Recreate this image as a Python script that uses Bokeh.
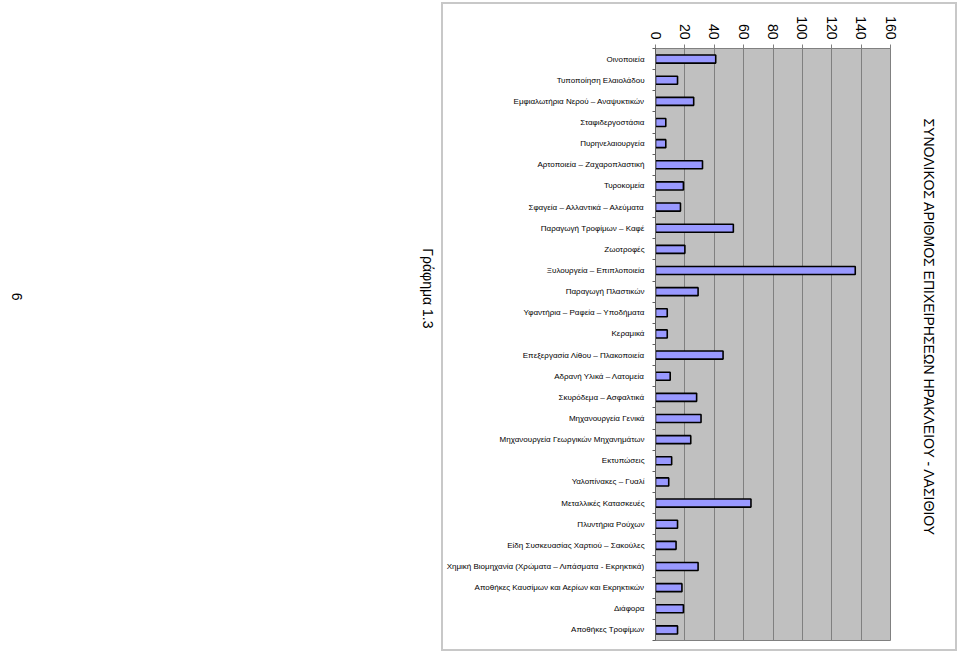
import math
from bokeh.plotting import figure
from bokeh.models import Range1d, FixedTicker, LinearAxis
from bokeh.embed import file_html
from bokeh.resources import INLINE

categories = [
    "Οινοποιεία",
    "Τυποποίηση Ελαιολάδου",
    "Εμφιαλωτήρια Νερού – Αναψυκτικών",
    "Σταφιδεργοστάσια",
    "Πυρηνελαιουργεία",
    "Αρτοποιεία – Ζαχαροπλαστική",
    "Τυροκομεία",
    "Σφαγεία – Αλλαντικά – Αλεύματα",
    "Παραγωγή Τροφίμων – Καφέ",
    "Ζωοτροφές",
    "Ξυλουργεία – Επιπλοποιεία",
    "Παραγωγή Πλαστικών",
    "Υφαντήρια – Ραφεία – Υποδήματα",
    "Κεραμικά",
    "Επεξεργασία Λίθου – Πλακοποιεία",
    "Αδρανή Υλικά – Λατομεία",
    "Σκυρόδεμα – Ασφαλτικά",
    "Μηχανουργεία Γενικά",
    "Μηχανουργεία Γεωργικών Μηχανημάτων",
    "Εκτυπώσεις",
    "Υαλοπίνακες – Γυαλί",
    "Μεταλλικές Κατασκευές",
    "Πλυντήρια Ρούχων",
    "Είδη Συσκευασίας Χαρτιού – Σακούλες",
    "Χημική Βιομηχανία (Χρώματα – Λιπάσματα - Εκρηκτικά)",
    "Αποθήκες Καυσίμων και Αερίων και Εκρηκτικών",
    "Διάφορα",
    "Αποθήκες Τροφίμων",
]
values = [41, 15, 26, 7, 7, 32, 19, 17, 53, 20, 136, 29, 8, 8, 46, 10, 28, 31,
          24, 11, 9, 65, 15, 14, 29, 18, 19, 15]
x_ticks = [0, 20, 40, 60, 80, 100, 120, 140, 160]

title_text = "ΣΥΝΟΛΙΚΟΣ ΑΡΙΘΜΟΣ ΕΠΙΧΕΙΡΗΣΕΩΝ ΗΡΑΚΛΕΙΟΥ - ΛΑΣΙΘΙΟΥ"
caption_text = "Γράφημα 1.3"
page_text = "6"

FONT = "Liberation Sans"
W, H = 959, 653
FRAME_L, FRAME_R, FRAME_T, FRAME_B = 655, 890, 48, 640

g = "linear-gradient(#c8c8c8,#c8c8c8)"
page_frame_css = ", ".join([
    f"{g} 441px 2px / 2px 649px no-repeat",
    f"{g} 441px 2px / 516px 2px no-repeat",
    f"{g} 441px 649px / 516px 2px no-repeat",
    f"{g} 955px 2px / 2px 649px no-repeat",
])

n = len(categories)
pos = list(range(n))

p = figure(
    width=W, height=H,
    y_range=Range1d(start=n - 0.5, end=-0.5),
    x_range=Range1d(0, 160),
    x_axis_location="above",
    output_backend="svg", toolbar_location=None,
    min_border_left=FRAME_L, min_border_right=W - FRAME_R, min_border_top=FRAME_T,
    min_border_bottom=H - FRAME_B,
    background_fill_color="#c0c0c0",
    border_fill_color=None,
    outline_line_color="#808080", outline_line_width=1,
    styles={"background": page_frame_css},
)

p.hbar(y=pos, right=values, left=0, height=0.38,
       fill_color="#9999ff", line_color="#000000", line_width=1.6)

xa = p.xaxis[0]
xa.ticker = FixedTicker(ticks=x_ticks)
xa.minor_tick_line_color = None
xa.major_label_orientation = -math.pi / 2
xa.major_label_text_font = FONT
xa.major_label_text_font_size = "14px"
xa.major_label_text_color = "#000000"
xa.major_label_standoff = 5
xa.axis_line_color = "#808080"
xa.major_tick_line_color = "#808080"
xa.major_tick_out = 4
xa.major_tick_in = 0

ya = p.yaxis[0]
ya.ticker = FixedTicker(ticks=pos, minor_ticks=[i - 0.5 for i in range(n + 1)])
ya.major_label_overrides = {i: c for i, c in zip(pos, categories)}
ya.major_label_text_font = FONT
ya.major_label_text_font_size = "8px"
ya.major_label_text_color = "#000000"
ya.major_label_standoff = 5
ya.axis_line_color = "#606060"
ya.major_tick_line_color = None
ya.minor_tick_line_color = "#606060"
ya.minor_tick_out = 3
ya.minor_tick_in = 0

p.xgrid.grid_line_color = "#808080"
p.xgrid.grid_line_width = 1
p.ygrid.grid_line_color = None

# page-coordinate range for the rotated page texts (title, caption, page number)
p.extra_y_ranges = {"page": Range1d(start=FRAME_B, end=FRAME_T)}
title_pos = 118
caption_pos = 328
page_pos = 300


def text_axis(pos_, text, standoff):
    return LinearAxis(y_range_name="page", ticker=FixedTicker(ticks=[pos_]),
                      major_label_overrides={pos_: text},
                      axis_line_color=None, major_tick_line_color=None,
                      minor_tick_line_color=None,
                      major_label_orientation=-math.pi / 2,
                      major_label_text_font=FONT, major_label_text_font_size="14px",
                      major_label_text_color="#000000", major_label_standoff=standoff)


# main title on the right, reading top to bottom
p.add_layout(text_axis(title_pos, title_text, 32), "right")
# caption and page number on the left
p.add_layout(text_axis(caption_pos, caption_text, 10), "left")
p.add_layout(text_axis(page_pos, page_text, 386), "left")

open("out.html", "w").write(file_html(p, INLINE))
